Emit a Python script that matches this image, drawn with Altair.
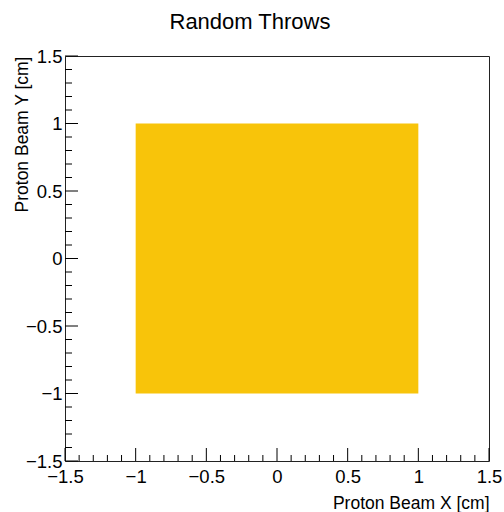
import altair as alt
import pandas as pd

# Region covered by the random throws (cm)
throw_x = [-1.0, 1.0]
throw_y = [-1.0, 1.0]
throw_colour = "#f8c40a"

# Axis range and tick marks (cm)
axis_range = [-1.5, 1.5]
major_ticks = [-1.5, -1.0, -0.5, 0.0, 0.5, 1.0, 1.5]
minor_ticks = [-1.4, -1.3, -1.2, -1.1, -0.9, -0.8, -0.7, -0.6, -0.4, -0.3,
               -0.2, -0.1, 0.1, 0.2, 0.3, 0.4, 0.6, 0.7, 0.8, 0.9,
               1.1, 1.2, 1.3, 1.4]

W, H = 424, 405
FONT = "Liberation Sans"

xs = alt.Scale(domain=axis_range, nice=False, zero=False)
ys = alt.Scale(domain=axis_range, nice=False, zero=False)

square = pd.DataFrame({"x0": [throw_x[0]], "x1": [throw_x[1]],
                       "y0": [throw_y[0]], "y1": [throw_y[1]]})

x_axis = alt.Axis(values=major_ticks, format="~g", ticks=False, domain=False, grid=False,
                  labelFont=FONT, labelFontSize=18.5, labelColor="black", labelPadding=6,
                  labelOverlap=False, labelFlush=False,
                  title="Proton Beam X [cm]", titleFont=FONT, titleFontSize=17.5,
                  titleFontWeight="normal", titleColor="black", titleAnchor="end",
                  titleAlign="right", titleX=W, titleY=47, titleBaseline="alphabetic")
y_axis = alt.Axis(values=major_ticks, format="~g", ticks=False, domain=False, grid=False,
                  labelFont=FONT, labelFontSize=18.5, labelColor="black", labelPadding=3,
                  labelOverlap=False, labelFlush=False,
                  title="Proton Beam Y [cm]", titleFont=FONT, titleFontSize=17.5,
                  titleFontWeight="normal", titleColor="black", titleAngle=270,
                  titleAlign="right", titleX=-38, titleY=0, titleBaseline="alphabetic")

hist = alt.Chart(square).mark_rect(color=throw_colour).encode(
    x=alt.X("x0:Q", scale=xs, axis=x_axis),
    x2="x1:Q",
    y=alt.Y("y0:Q", scale=ys, axis=y_axis),
    y2="y1:Q",
)

major_df = pd.DataFrame({"v": major_ticks})
minor_df = pd.DataFrame({"v": minor_ticks})

def x_ticks(df, length):
    return alt.Chart(df).mark_rule(color="black", strokeWidth=1).encode(
        x=alt.X("v:Q", scale=xs, axis=x_axis),
        y=alt.value(H), y2=alt.value(H - length))

def y_ticks(df, length):
    return alt.Chart(df).mark_rule(color="black", strokeWidth=1).encode(
        y=alt.Y("v:Q", scale=ys, axis=y_axis),
        x=alt.value(0), x2=alt.value(length))

chart = alt.layer(
    hist,
    x_ticks(major_df, 13), x_ticks(minor_df, 6),
    y_ticks(major_df, 13), y_ticks(minor_df, 7),
).properties(
    width=W, height=H,
    title=alt.TitleParams("Random Throws", font=FONT, fontSize=22, fontWeight="normal",
                          color="black", anchor="middle", dx=-27, offset=13),
    autosize="none",
    padding={"left": 65, "top": 56, "right": 15, "bottom": 51},
).configure_view(stroke="#222", strokeWidth=1)

chart.save("out.html", embed_options={"renderer": "svg", "actions": False})
